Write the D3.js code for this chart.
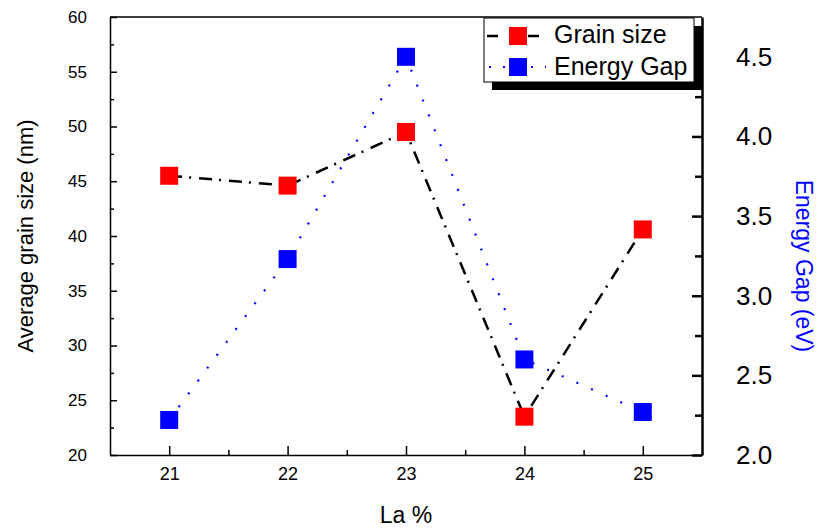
<html>
<head>
<meta charset="utf-8">
<style>
  body { margin: 0; background: #fff; }
  svg text { font-family: Arial, "Liberation Sans", sans-serif; fill: #000; }
  .axis path, .axis line { stroke: #000; }
</style>
<script src="https://d3js.org/d3.v7.min.js"></script>
</head>
<body>
<svg id="chart" width="821" height="529"></svg>
<script>
// data
var laPercent = [21, 22, 23, 24, 25];
var grainSize = [45.5, 44.6, 49.5, 23.5, 40.6];
var energyGap = [2.22, 3.23, 4.5, 2.6, 2.27];
var xTicks = [21, 22, 23, 24, 25];
var grainTicks = [20, 25, 30, 35, 40, 45, 50, 55, 60];
var gapTicks = [2.0, 2.5, 3.0, 3.5, 4.0, 4.5];

var g = {};
g.left = 110; g.right = 702; g.top = 17; g.bottom = 455;
g.svg = d3.select('#chart');

var x = d3.scaleLinear().domain([20.5, 25.5]).range([g.left, g.right]);
var yL = d3.scaleLinear().domain([20, 60]).range([g.bottom, g.top]);
var yR = d3.scaleLinear().domain([2, 4.75]).range([g.bottom, g.top]);

// top frame line
g.svg.append('line')
  .attr('x1', g.left).attr('x2', g.right)
  .attr('y1', g.top).attr('y2', g.top)
  .attr('stroke', '#000').attr('stroke-width', 1.5);

// left axis - minor then major
g.svg.append('g').attr('class', 'axis')
  .attr('transform', 'translate(' + g.left + ',0)')
  .call(d3.axisLeft(yL).tickValues(d3.range(22.5, 60, 5)).tickSize(-4).tickFormat(''))
  .call(function(s) { s.select('.domain').remove(); s.selectAll('line').attr('stroke-width', 1.5); });
g.svg.append('g').attr('class', 'axis')
  .attr('transform', 'translate(' + g.left + ',0)')
  .call(d3.axisLeft(yL).tickValues(grainTicks).tickSizeInner(-7).tickSizeOuter(0).tickPadding(23))
  .call(function(s) {
    s.select('.domain').attr('stroke-width', 1.5);
    s.selectAll('line').attr('stroke-width', 1.5);
    s.selectAll('text').attr('font-size', 17).style('font-family', 'Arial, "Liberation Sans"');
  });

// bottom axis
g.svg.append('g').attr('class', 'axis')
  .attr('transform', 'translate(0,' + g.bottom + ')')
  .call(d3.axisBottom(x).tickValues([21.5, 22.5, 23.5, 24.5]).tickSize(-5).tickFormat(''))
  .call(function(s) { s.select('.domain').remove(); s.selectAll('line').attr('stroke-width', 1.5); });
g.svg.append('g').attr('class', 'axis')
  .attr('transform', 'translate(0,' + g.bottom + ')')
  .call(d3.axisBottom(x).tickValues(xTicks).tickSizeInner(-9).tickSizeOuter(0).tickPadding(12)
        .tickFormat(d3.format('d')))
  .call(function(s) {
    s.select('.domain').attr('stroke-width', 1.5);
    s.selectAll('line').attr('stroke-width', 1.5);
    s.selectAll('text').attr('font-size', 18).style('font-family', 'Arial, "Liberation Sans"');
  });

// right axis
g.svg.append('g').attr('class', 'axis')
  .attr('transform', 'translate(' + g.right + ',0)')
  .call(d3.axisRight(yR).tickValues(d3.range(2.25, 4.75, 0.5)).tickSize(-7).tickFormat(''))
  .call(function(s) { s.select('.domain').remove(); s.selectAll('line').attr('stroke-width', 2.5); });
g.svg.append('g').attr('class', 'axis')
  .attr('transform', 'translate(' + g.right + ',0)')
  .call(d3.axisRight(yR).tickValues(gapTicks).tickSizeInner(-10).tickSizeOuter(0).tickPadding(34)
        .tickFormat(d3.format('.1f')))
  .call(function(s) {
    s.select('.domain').attr('stroke-width', 2.5);
    s.selectAll('line').attr('stroke-width', 2.5);
    s.selectAll('text').attr('font-size', 26).style('font-family', 'Arial, "Liberation Sans"');
  });

// axis titles
g.svg.append('text')
  .attr('transform', 'translate(33,' + ((g.top + g.bottom) / 2) + ') rotate(-90)')
  .attr('text-anchor', 'middle').attr('font-size', 22)
  .text('Average grain size (nm)');
g.svg.append('text')
  .attr('transform', 'translate(796,266) rotate(90)')
  .attr('text-anchor', 'middle').attr('font-size', 23)
  .style('fill', '#0000ff')
  .text('Energy Gap (eV)');
g.svg.append('text')
  .attr('x', 406).attr('y', 523)
  .attr('text-anchor', 'middle').attr('font-size', 23)
  .text('La %');

// series lines
var grainLine = d3.line().x(function(d, i) { return x(laPercent[i]); }).y(function(d) { return yL(d); });
var gapLine = d3.line().x(function(d, i) { return x(laPercent[i]); }).y(function(d) { return yR(d); });

g.svg.append('path').datum(grainSize)
  .attr('d', grainLine).attr('fill', 'none')
  .attr('stroke', '#000').attr('stroke-width', 2.5)
  .attr('stroke-dasharray', '13,7,2,8');
g.svg.append('path').datum(energyGap)
  .attr('d', gapLine).attr('fill', 'none')
  .attr('stroke', '#0000ff').attr('stroke-width', 2.2)
  .attr('stroke-dasharray', '2,14');

var sz = 18;
g.svg.selectAll('.grain').data(grainSize).enter().append('rect')
  .attr('class', 'grain')
  .attr('x', function(d, i) { return x(laPercent[i]) - sz / 2; })
  .attr('y', function(d) { return yL(d) - sz / 2; })
  .attr('width', sz).attr('height', sz).attr('fill', '#ff0000');
g.svg.selectAll('.gap').data(energyGap).enter().append('rect')
  .attr('class', 'gap')
  .attr('x', function(d, i) { return x(laPercent[i]) - sz / 2; })
  .attr('y', function(d) { return yR(d) - sz / 2; })
  .attr('width', sz).attr('height', sz).attr('fill', '#0000ff');

// legend
var lg = g.svg.append('g');
lg.append('rect').attr('x', 492).attr('y', 26).attr('width', 210).attr('height', 64).attr('fill', '#000');
lg.append('rect').attr('x', 484).attr('y', 18).attr('width', 210).attr('height', 64)
  .attr('fill', '#fff').attr('stroke', '#000').attr('stroke-width', 1);
lg.append('line').attr('x1', 487).attr('x2', 498).attr('y1', 36).attr('y2', 36).attr('stroke', '#000').attr('stroke-width', 2.5);
lg.append('line').attr('x1', 528).attr('x2', 539).attr('y1', 36).attr('y2', 36).attr('stroke', '#000').attr('stroke-width', 2.5);
lg.append('rect').attr('x', 509).attr('y', 27).attr('width', sz).attr('height', sz).attr('fill', '#ff0000');
lg.append('line').attr('x1', 489).attr('x2', 546).attr('y1', 67).attr('y2', 67)
  .attr('stroke', '#0000ff').attr('stroke-width', 2.2).attr('stroke-dasharray', '2,12');
lg.append('rect').attr('x', 509).attr('y', 58).attr('width', sz).attr('height', sz).attr('fill', '#0000ff');
lg.append('text').attr('x', 554).attr('y', 43).attr('font-size', 25).text('Grain size');
lg.append('text').attr('x', 554).attr('y', 75).attr('font-size', 25).text('Energy Gap');
</script>
</body>
</html>
